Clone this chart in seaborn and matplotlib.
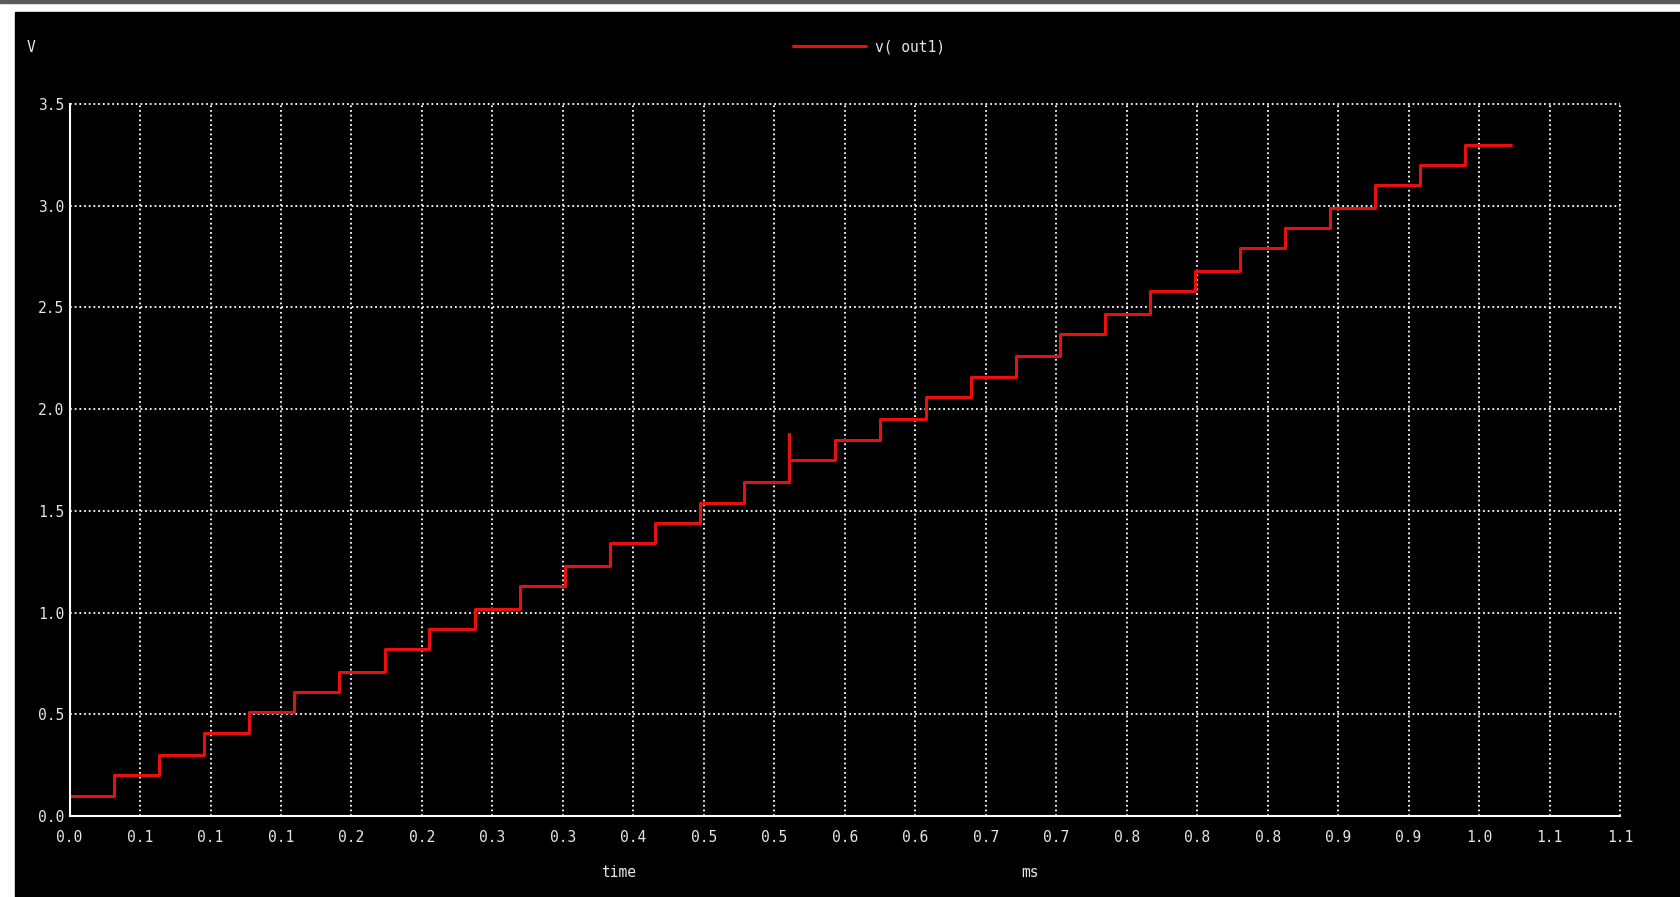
import matplotlib
matplotlib.use("Agg")
import matplotlib.pyplot as plt
from matplotlib.patches import Rectangle
import numpy as np
import pandas as pd
import seaborn as sns

# transient of v(out1) (time in ms, volts)
time_ms = [0.0, 0.0315, 0.0635, 0.0954, 0.1273, 0.1594, 0.1910, 0.2236,
           0.2552, 0.2876, 0.3195, 0.3513, 0.3832, 0.4151, 0.4470, 0.4788,
           0.5107, 0.5107, 0.5428, 0.5747, 0.6073, 0.6393, 0.6715, 0.7030,
           0.7347, 0.7668, 0.7987, 0.8301, 0.8622, 0.8943, 0.9261, 0.9578,
           0.9902, 1.0224]
v_out1 = [0.10, 0.20, 0.30, 0.41, 0.51, 0.61, 0.71, 0.82,
          0.92, 1.02, 1.13, 1.23, 1.34, 1.44, 1.54, 1.64,
          1.88, 1.75, 1.85, 1.95, 2.06, 2.16, 2.26, 2.37,
          2.47, 2.58, 2.68, 2.79, 2.89, 2.99, 3.10, 3.20,
          3.30, 3.30]

x_tick_labels = ["0.0", "0.1", "0.1", "0.1", "0.2", "0.2", "0.3", "0.3",
                 "0.4", "0.5", "0.5", "0.6", "0.6", "0.7", "0.7", "0.8",
                 "0.8", "0.8", "0.9", "0.9", "1.0", "1.1", "1.1"]
y_tick_labels = ["0.0", "0.5", "1.0", "1.5", "2.0", "2.5", "3.0", "3.5"]

W, H = 1681, 897
fg = "#e6e6e6"

sns.set_theme(style="dark", rc={"axes.facecolor": "black",
                                "figure.facecolor": "white",
                                "axes.axisbelow": True})
plt.rcParams["font.family"] = ["DejaVu Sans Mono"]

fig = plt.figure(figsize=(W / 100, H / 100), dpi=100)
# black window area with the light title strip at the top
fig.patches.append(Rectangle((15 / W, 0), 1 - 15 / W, 1 - 12 / H,
                             transform=fig.transFigure, color="black", zorder=-10))
fig.patches.append(Rectangle((0, 1 - 3 / H), 1, 3 / H,
                             transform=fig.transFigure, color="#5a5a5a", zorder=-10))

ax = fig.add_axes([69.6 / W, 1 - 816 / H, (1620 - 69.6) / W, (816 - 104) / H])
ax.set_facecolor("black")

df = pd.DataFrame({"time": time_ms, "v": v_out1})
sns.lineplot(data=df, x="time", y="v", ax=ax, estimator=None, sort=False,
             drawstyle="steps-post", color="#e8100f", linewidth=2.2,
             label="v( out1)")

ax.set_xlim(0, 1.1)
ax.set_ylim(0, 3.5)
ax.set_xticks(np.linspace(0, 1.1, len(x_tick_labels)))
ax.set_xticklabels(x_tick_labels)
ax.set_yticks(np.linspace(0, 3.5, len(y_tick_labels)))
ax.set_yticklabels(y_tick_labels)
ax.tick_params(axis="both", length=0, colors=fg, labelsize=10.5)
ax.tick_params(axis="x", pad=10)
ax.tick_params(axis="y", pad=4)
ax.set_xlabel("")
ax.set_ylabel("")

ax.grid(True, color="white", linestyle=(0, (1, 1.6)), linewidth=1.3)
# keep the dotted lines at the plot edges (3.5 V, 1.1 ms) fully visible
for gl in ax.get_xgridlines() + ax.get_ygridlines():
    gl.set_clip_on(False)
for side in ["top", "right"]:
    ax.spines[side].set_visible(False)
for side in ["left", "bottom"]:
    ax.spines[side].set_visible(True)
    ax.spines[side].set_color("white")
    ax.spines[side].set_linewidth(1.5)
    ax.spines[side].set_zorder(3)

ax.legend(loc="center left", bbox_to_anchor=(793 / W, 1 - 47 / H),
          bbox_transform=fig.transFigure, frameon=False, handlelength=5,
          handletextpad=0.6, borderpad=0, borderaxespad=0,
          labelcolor=fg, fontsize=10.5)

fig.text(27 / W, 1 - 47 / H, "V", color=fg, fontsize=10.5, ha="left", va="center")
fig.text(619 / W, 1 - 872 / H, "time", color=fg, fontsize=10.5, ha="center", va="center")
fig.text(1030 / W, 1 - 872 / H, "ms", color=fg, fontsize=10.5, ha="center", va="center")

fig.savefig("out.png", dpi=100, facecolor=fig.get_facecolor())
